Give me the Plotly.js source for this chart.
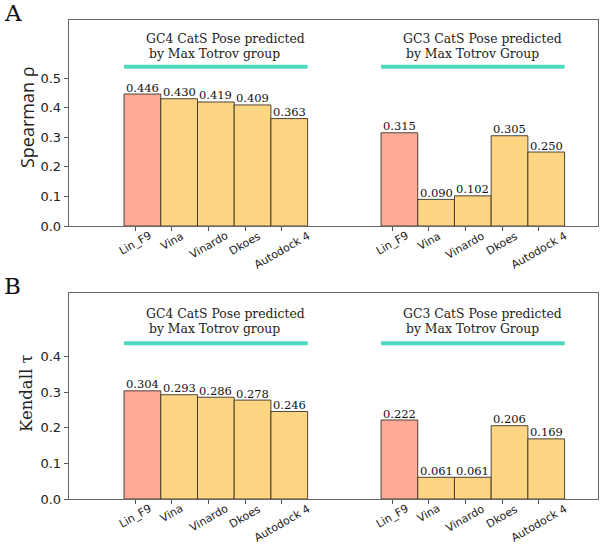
<!DOCTYPE html>
<html>
<head>
<meta charset="utf-8">
<script src="https://cdn.plot.ly/plotly-3.0.1.min.js"></script>
<style>
  html, body { margin: 0; padding: 0; background: #fff; }
  #chart { width: 600px; height: 547px; }
</style>
</head>
<body>
<div id="chart"></div>
<script>
// ---------- data ----------
const methods = ['Lin_F9', 'Vina', 'Vinardo', 'Dkoes', 'Autodock 4'];
const spearmanGC4 = [0.446, 0.430, 0.419, 0.409, 0.363];
const spearmanGC3 = [0.315, 0.090, 0.102, 0.305, 0.250];
const kendallGC4 = [0.304, 0.293, 0.286, 0.278, 0.246];
const kendallGC3 = [0.222, 0.061, 0.061, 0.206, 0.169];
const groupCaptionsGC4 = ['GC4 CatS Pose predicted', 'by Max Totrov group'];
const groupCaptionsGC3 = ['GC3 CatS Pose predicted', 'by Max Totrov Group'];
const panelLetters = ['A', 'B'];
const yTitles = ['Spearman \u03c1', 'Kendall \u03c4'];
const yTicksA = [0.0, 0.1, 0.2, 0.3, 0.4, 0.5];
const yTicksB = [0.0, 0.1, 0.2, 0.3, 0.4];

// ---------- styling ----------
const SALMON = '#FFAA96';
const YELLOW = '#FDD583';
const TEAL = '#4DD9BD';
const EDGE = 'rgba(60,50,40,0.9)';
const SERIF = 'DejaVu Serif, serif';
const SANS = 'DejaVu Sans, sans-serif';

const groupStarts = [0, 7];  // bar slot index of first bar in each group
const colors = methods.map((m, i) => i === 0 ? SALMON : YELLOW);

function positions(start) { return methods.map((m, i) => start + i); }

const traces = [];
const annotations = [];

const panels = [
  {xa: 'x', ya: 'y', groups: [spearmanGC4, spearmanGC3], teal: 0.538,
   capY: [0.632, 0.584], letterY: 1.046, titleShift: 6, title: yTitles[0],
   titleFont: {family: 'Open Sans, sans-serif', size: 18, color: '#222'}, letter: panelLetters[0]},
  {xa: 'x2', ya: 'y2', groups: [kendallGC4, kendallGC3], teal: 0.438,
   capY: [0.5205, 0.479], letterY: 0.476, titleShift: 3, title: yTitles[1],
   titleFont: {family: SERIF, size: 16.5, color: '#222'}, letter: panelLetters[1]}
];
const captions = [groupCaptionsGC4, groupCaptionsGC3];

panels.forEach((p) => {
  p.groups.forEach((vals, g) => {
    const xs = positions(groupStarts[g]);
    traces.push({
      type: 'bar', x: xs, y: vals, xaxis: p.xa, yaxis: p.ya, width: 1,
      marker: {color: colors, line: {color: EDGE, width: 1}},
      hoverinfo: 'skip', showlegend: false
    });
    // value labels just above each bar
    xs.forEach((x, i) => {
      annotations.push({
        xref: p.xa, yref: p.ya, x: x, y: vals[i],
        xanchor: 'center', yanchor: 'bottom', yshift: -2.5,
        text: vals[i].toFixed(3), showarrow: false,
        font: {family: SERIF, size: 11.5, color: '#111'}
      });
    });
    // teal bracket line above the group
    traces.push({
      type: 'scatter', mode: 'lines', xaxis: p.xa, yaxis: p.ya,
      x: [xs[0] - 0.5, xs[xs.length - 1] + 0.5], y: [p.teal, p.teal],
      line: {color: TEAL, width: 4}, hoverinfo: 'skip', showlegend: false
    });
    // group captions
    captions[g].forEach((line, li) => {
      annotations.push({
        xref: p.xa, yref: p.ya, x: xs[0] - 0.5 + 0.545, y: p.capY[li],
        xanchor: 'left', yanchor: 'middle', xshift: li === 0 ? 0 : 3,
        text: line, showarrow: false,
        font: {family: SERIF, size: 12.4, color: '#222'}
      });
    });
    // rotated tick labels (centred on tick like matplotlib)
    xs.forEach((x, i) => {
      annotations.push({
        xref: p.xa, yref: p.ya + ' domain', x: x - 0.2, y: 0,
        xanchor: 'center', yanchor: 'top', yshift: -2, textangle: -30,
        text: methods[i], showarrow: false, borderpad: 0,
        font: {family: SANS, size: 11, color: '#222'}
      });
    });
  });
  // y title
  annotations.push({
    xref: 'paper', yref: p.ya + ' domain', x: 0, y: 0.5, xshift: -42, yshift: p.titleShift,
    xanchor: 'center', yanchor: 'middle', textangle: -90,
    text: p.title, showarrow: false, font: p.titleFont
  });
  // panel letter
  annotations.push({
    xref: 'paper', yref: 'paper', x: -0.127, y: p.letterY,
    xanchor: 'left', yanchor: 'top', text: p.letter, showarrow: false,
    font: {family: SERIF, size: 23, color: '#111'}
  });
});

const allPos = groupStarts.flatMap(positions);
const xCommon = {
  range: [-2.0, 12.41], showgrid: false, zeroline: false,
  showline: true, mirror: true, linecolor: '#666', linewidth: 1.3,
  ticks: 'outside', ticklen: 4, tickcolor: '#555', tickwidth: 1,
  tickvals: allPos.map(v => v - 0.2), showticklabels: false, fixedrange: true
};
const yCommon = {
  showgrid: false, zeroline: false, showline: true, mirror: true,
  linecolor: '#666', linewidth: 1.3, ticks: 'outside', ticklen: 4,
  tickcolor: '#555', tickwidth: 1, tickformat: '.1f',
  tickfont: {family: SANS, size: 13, color: '#222'}, fixedrange: true
};

const layout = {
  width: 600, height: 547,
  margin: {l: 69, r: 2, t: 20, b: 48},
  paper_bgcolor: '#fff', plot_bgcolor: '#fff',
  showlegend: false, bargap: 0,
  xaxis: Object.assign({}, xCommon, {anchor: 'y', domain: [0, 1]}),
  xaxis2: Object.assign({}, xCommon, {anchor: 'y2', domain: [0, 1]}),
  yaxis: Object.assign({}, yCommon, {anchor: 'x', domain: [0.5699, 1], range: [0, 0.696], tickvals: yTicksA}),
  yaxis2: Object.assign({}, yCommon, {anchor: 'x2', domain: [0, 0.4301], range: [0, 0.579], tickvals: yTicksB}),
  annotations: annotations
};

Plotly.newPlot('chart', traces, layout, {displayModeBar: false, staticPlot: true});
</script>
</body>
</html>
